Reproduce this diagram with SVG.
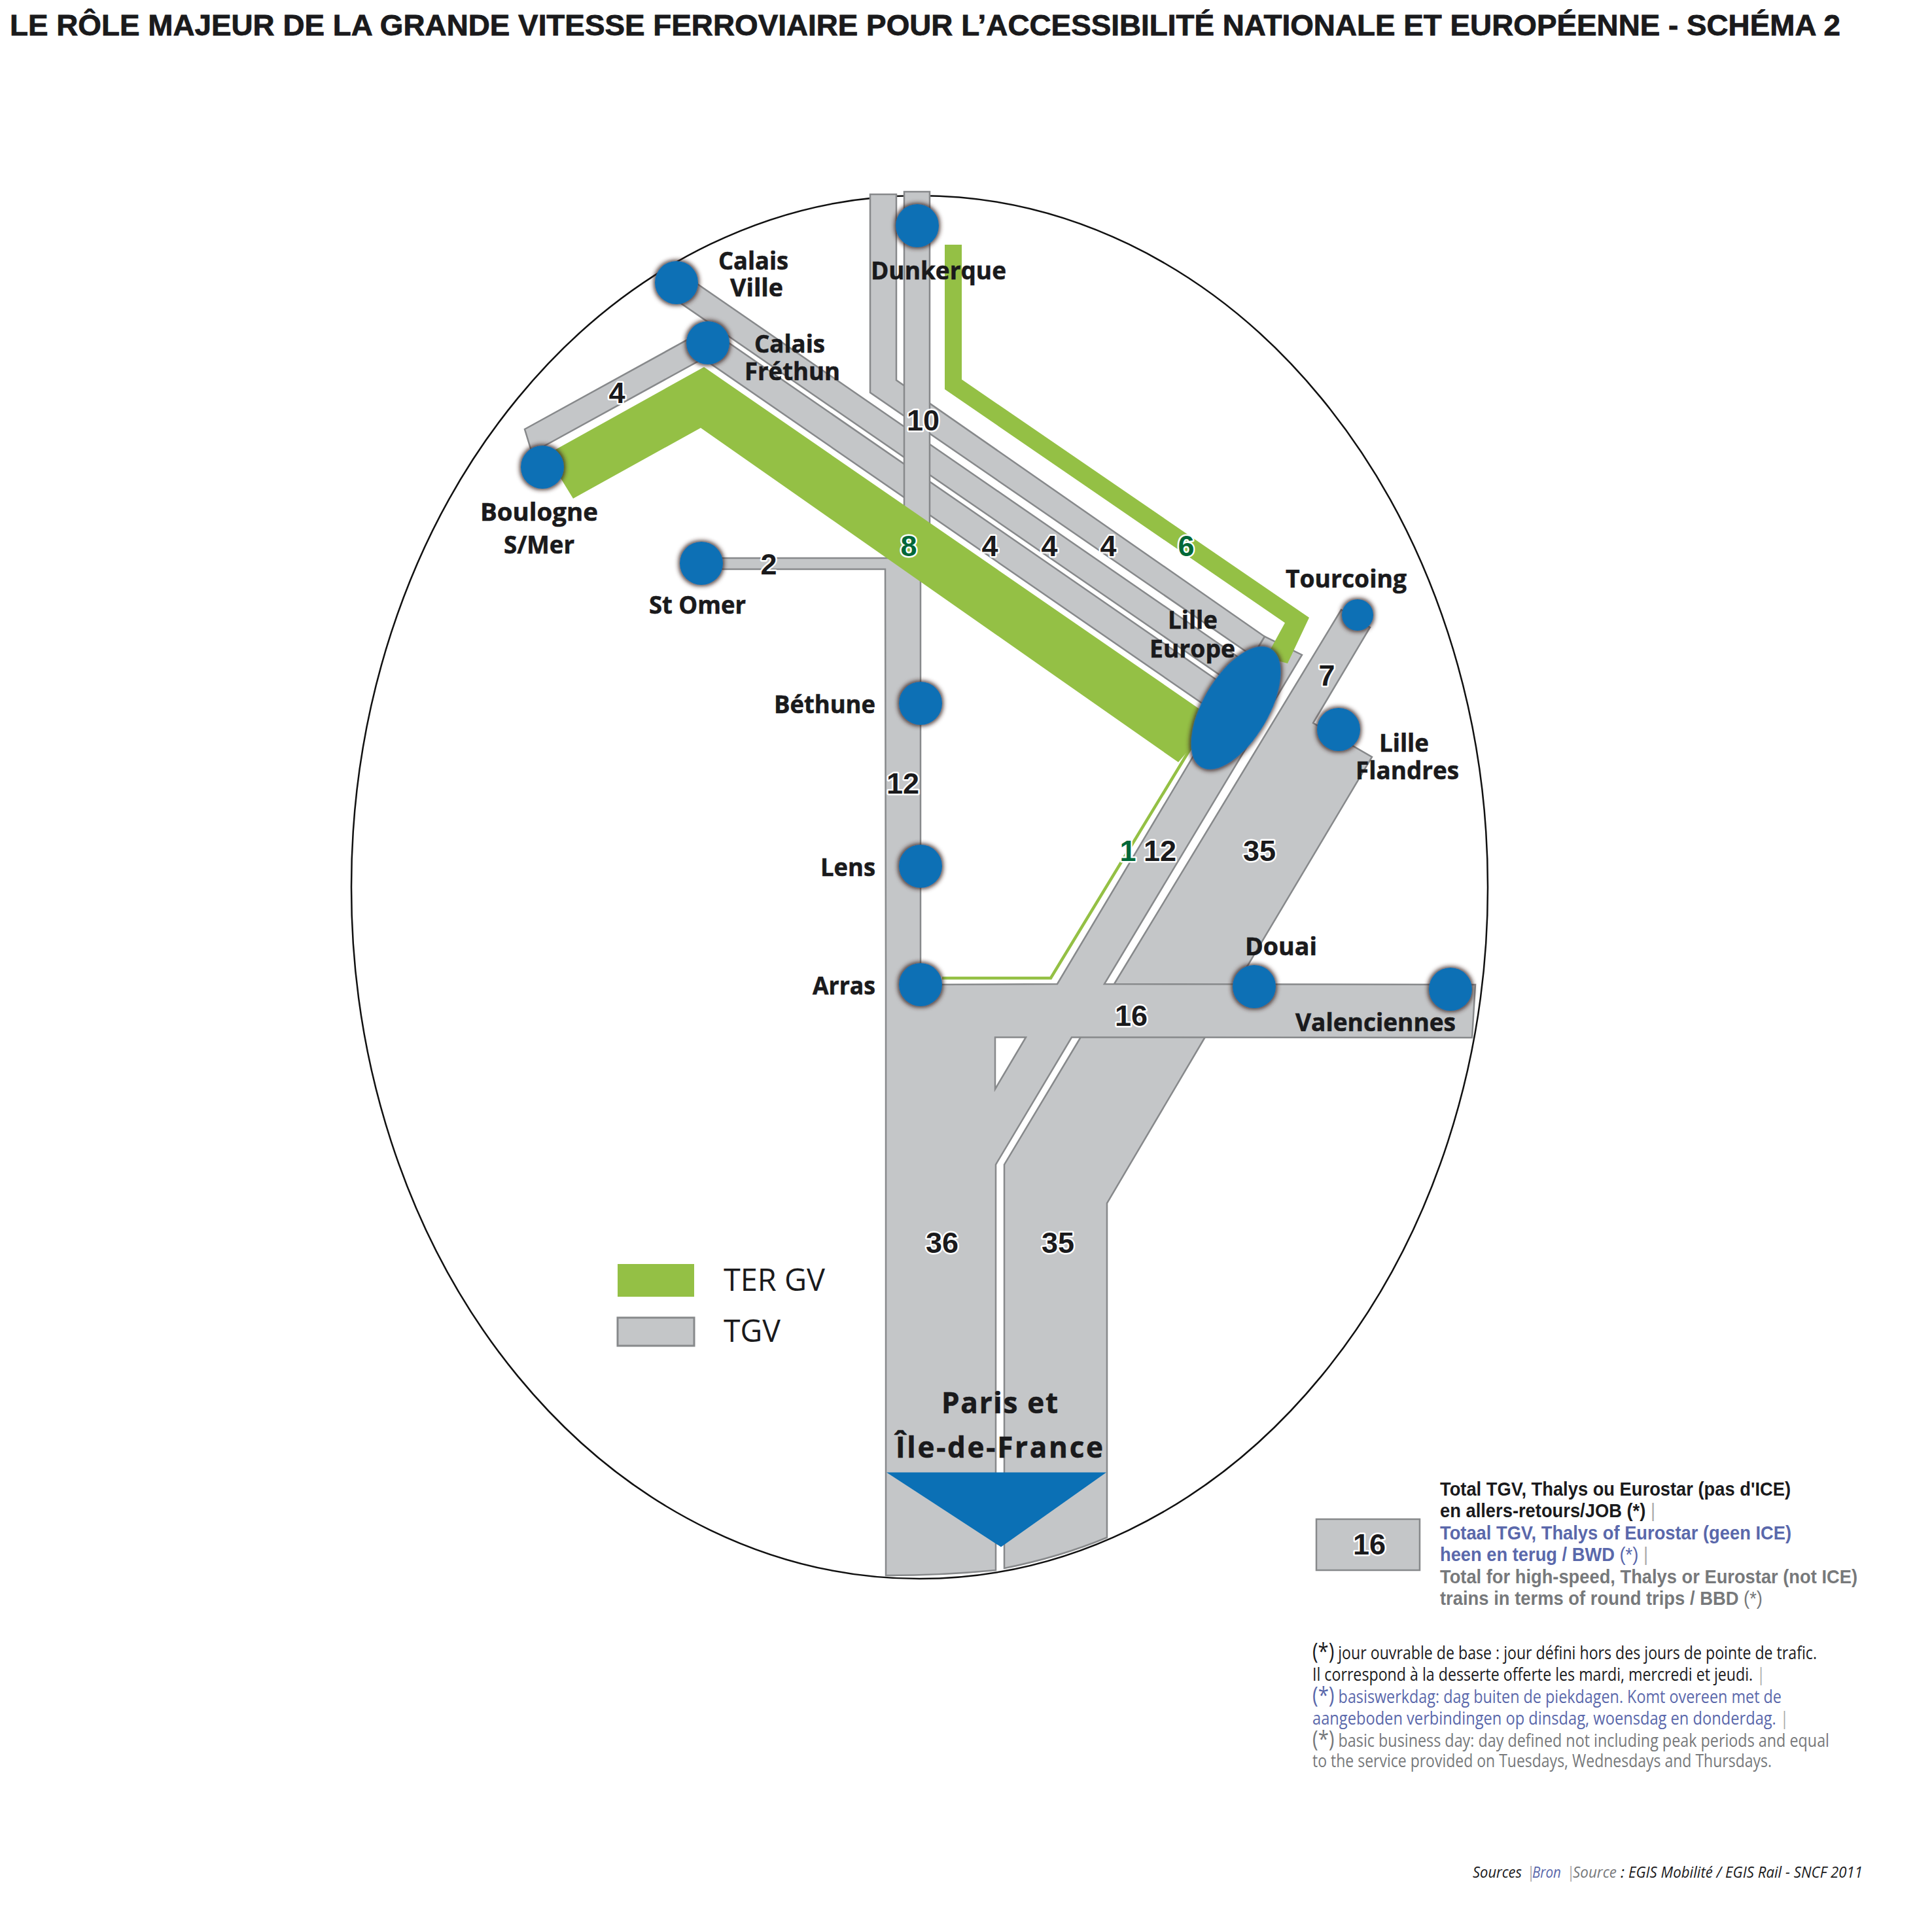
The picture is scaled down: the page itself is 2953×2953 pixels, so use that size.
<svg xmlns="http://www.w3.org/2000/svg" width="2953" height="2953" viewBox="0 0 2953 2953">
<defs>
<style>
.g{fill:#c4c6c8;stroke:#87898b;stroke-width:2.5;stroke-linejoin:miter}
.v{fill:#94c045}
.st{fill:#0b70b5;filter:url(#sh)}
.lb{font-family:"Open Sans","Noto Sans",sans-serif;font-weight:700;font-size:38px;fill:#1a1a1c;stroke:#1a1a1c;stroke-width:.6px}
.n{font-family:"Liberation Sans",Arial,sans-serif;font-weight:700;font-size:45px;fill:#1a1a1c;stroke:#fff;stroke-width:5px;paint-order:stroke;text-anchor:middle;stroke-linejoin:round}
.ng{fill:#006838}
.t{font-family:"Liberation Sans",Arial,sans-serif;font-weight:700;font-size:30px}
.f{font-family:"Open Sans","Noto Sans",sans-serif;font-size:27px}
.so{font-family:"Open Sans","Noto Sans",sans-serif;font-style:italic;font-size:24px}
.a{font-size:34px}
.k{fill:#1a1a1c}.b{fill:#5a68ab}.y{fill:#77797b}
.sep{fill:#aaaaaa;font-weight:400}
</style>
<filter id="sh" x="-30%" y="-30%" width="160%" height="160%"><feMorphology in="SourceAlpha" operator="dilate" radius="1.5"/><feGaussianBlur stdDeviation="3" result="b"/><feFlood flood-color="#3a2522" flood-opacity=".85"/><feComposite in2="b" operator="in" result="s"/><feMerge><feMergeNode in="s"/><feMergeNode in="SourceGraphic"/></feMerge></filter>
</defs>
<rect width="2953" height="2953" fill="#fff"/>
<text x="15" y="54" font-family="'Liberation Sans',Arial,sans-serif" font-weight="700" font-size="45" fill="#1a1a1c" stroke="#1a1a1c" stroke-width=".8" textLength="2798" lengthAdjust="spacingAndGlyphs">LE RÔLE MAJEUR DE LA GRANDE VITESSE FERROVIAIRE POUR L’ACCESSIBILITÉ NATIONALE ET EUROPÉENNE - SCHÉMA 2</text>
<ellipse cx="1405.5" cy="1356" rx="868.5" ry="1057" fill="#fff" stroke="#111" stroke-width="2.5"/>
<g id="connectors">
<path class="g" d="M802,656L1082,502L1082,544L813,692Z"/>
<path class="g" d="M1034,412L1908,1015L1888,1048L1034,459Z"/>
<path class="g" d="M1082,502L1884,1056L1862,1092L1082,553Z"/>
<path class="g" d="M1330,297L1370,297L1370,581L1933,973L1915,1003L1330,600Z"/>
<path class="g" d="M1382,293L1421,293L1421,810L1382,810Z"/>
<path class="g" d="M1703,1504L2050,932L2094,959L2007,1105L2097,1157L1842,1585L1692,1839L1692,2350Q1620,2380 1535,2397L1535,1780L1652,1585Z"/>
<path class="g" fill-rule="evenodd" d="M1072,853L1407,853L1407,1505L1616,1504L1933,973L1990,1001L1688,1504L2255,1505L2250,1586L1638,1585.5L1522,1780L1522,2400Q1440,2408 1354,2408L1354,1500L1353,870L1072,870ZM1521,1585.5L1568,1585.5L1521,1664.6Z"/>
<path class="v" d="M835,695L1076,561L1857,1100L1801,1165L1071,654L876,762Z"/>
<path class="v" d="M1444,374L1470,374L1470,580L2001,944L1968,1014L1935,1005L1964,952L1444,595Z"/>
<path d="M1440,1495L1606,1495L1822,1140" fill="none" stroke="#94c045" stroke-width="4.5"/>
</g>
<g id="node-dunkerque"><circle class="st" cx="1402" cy="345" r="33"/><text class="lb" x="1331" y="427" textLength="207" lengthAdjust="spacingAndGlyphs">Dunkerque</text></g>
<g id="node-calais-ville"><circle class="st" cx="1034" cy="432" r="33"/><text class="lb" x="1098" y="412" textLength="107" lengthAdjust="spacingAndGlyphs">Calais</text><text class="lb" x="1116" y="453" textLength="81" lengthAdjust="spacingAndGlyphs">Ville</text></g>
<g id="node-calais-frethun"><circle class="st" cx="1082" cy="524" r="33"/><text class="lb" x="1153" y="539" textLength="108" lengthAdjust="spacingAndGlyphs">Calais</text><text class="lb" x="1138" y="581" textLength="146" lengthAdjust="spacingAndGlyphs">Fréthun</text></g>
<g id="node-boulogne"><circle class="st" cx="829" cy="714" r="33"/><text class="lb" x="734" y="796" textLength="180" lengthAdjust="spacingAndGlyphs">Boulogne</text><text class="lb" x="770" y="846" textLength="108" lengthAdjust="spacingAndGlyphs">S/Mer</text></g>
<g id="node-st-omer"><circle class="st" cx="1072" cy="861" r="33"/><text class="lb" x="992" y="938" textLength="148" lengthAdjust="spacingAndGlyphs">St Omer</text></g>
<g id="node-bethune"><circle class="st" cx="1407" cy="1075" r="33"/><text class="lb" x="1183" y="1090" textLength="155" lengthAdjust="spacingAndGlyphs">Béthune</text></g>
<g id="node-lens"><circle class="st" cx="1407" cy="1324" r="33"/><text class="lb" x="1254" y="1339" textLength="84" lengthAdjust="spacingAndGlyphs">Lens</text></g>
<g id="node-arras"><circle class="st" cx="1407" cy="1505" r="33"/><text class="lb" x="1242" y="1520" textLength="96" lengthAdjust="spacingAndGlyphs">Arras</text></g>
<g id="node-tourcoing"><circle class="st" cx="2075" cy="940" r="24"/><text class="lb" x="1965" y="898" textLength="185" lengthAdjust="spacingAndGlyphs">Tourcoing</text></g>
<g id="node-lille-europe"><ellipse class="st" cx="1889" cy="1082" rx="105" ry="50" transform="rotate(-59.5 1889 1082)"/><text class="lb" x="1785" y="961" textLength="76" lengthAdjust="spacingAndGlyphs">Lille</text><text class="lb" x="1757" y="1005" textLength="131" lengthAdjust="spacingAndGlyphs">Europe</text></g>
<g id="node-lille-flandres"><circle class="st" cx="2046" cy="1115" r="33"/><text class="lb" x="2108" y="1149" textLength="76" lengthAdjust="spacingAndGlyphs">Lille</text><text class="lb" x="2072" y="1191" textLength="158" lengthAdjust="spacingAndGlyphs">Flandres</text></g>
<g id="node-douai"><circle class="st" cx="1917" cy="1508" r="33"/><text class="lb" x="1903" y="1460" textLength="110" lengthAdjust="spacingAndGlyphs">Douai</text></g>
<g id="node-valenciennes"><circle class="st" cx="2217" cy="1512" r="33"/><text class="lb" x="1980" y="1576" textLength="245" lengthAdjust="spacingAndGlyphs">Valenciennes</text></g>
<g id="node-paris"><path fill="#0b70b5" d="M1355,2250.5L1691,2250.5L1530,2364.5Z"/><text class="lb" style="font-size:44px" x="1439" y="2160" textLength="178">Paris et</text><text class="lb" style="font-size:44px" x="1369" y="2228" textLength="317">Île-de-France</text></g>
<g id="numbers">
<text class="n" x="943" y="616">4</text>
<text class="n" x="1411" y="658">10</text>
<text class="n ng" x="1389" y="850">8</text>
<text class="n" x="1513" y="850">4</text>
<text class="n" x="1604" y="850">4</text>
<text class="n" x="1694" y="850">4</text>
<text class="n ng" x="1813" y="850">6</text>
<text class="n" x="1175" y="878">2</text>
<text class="n" x="1380" y="1213">12</text>
<text class="n ng" x="1724" y="1316">1</text>
<text class="n" x="1773" y="1316">12</text>
<text class="n" x="1925" y="1316">35</text>
<text class="n" x="2028" y="1048">7</text>
<text class="n" x="1729" y="1568">16</text>
<text class="n" x="1440" y="1915">36</text>
<text class="n" x="1617" y="1915">35</text>
</g>
<g id="legend">
<rect x="944" y="1932" width="117" height="50" fill="#94c045"/>
<rect class="g" style="stroke-width:3" x="944" y="2014" width="117" height="43"/>
<text x="1106" y="1973" font-family="'Open Sans','Noto Sans',sans-serif" font-size="48" fill="#1a1a1c" textLength="155" lengthAdjust="spacingAndGlyphs">TER GV</text>
<text x="1106" y="2051" font-family="'Open Sans','Noto Sans',sans-serif" font-size="48" fill="#1a1a1c" textLength="87" lengthAdjust="spacingAndGlyphs">TGV</text>
<rect class="g" x="2012" y="2322" width="158" height="78"/>
<text class="n" x="2093" y="2376">16</text>
<text class="t k" x="2201" y="2286" textLength="536" lengthAdjust="spacingAndGlyphs">Total TGV, Thalys ou Eurostar (pas d'ICE)</text>
<text class="t k" x="2201" y="2319" textLength="329" lengthAdjust="spacingAndGlyphs">en allers-retours/JOB (*) <tspan class="sep">|</tspan></text>
<text class="t b" x="2201" y="2353" textLength="537" lengthAdjust="spacingAndGlyphs">Totaal TGV, Thalys of Eurostar (geen ICE)</text>
<text class="t b" x="2201" y="2386" textLength="318" lengthAdjust="spacingAndGlyphs">heen en terug / BWD <tspan font-weight="400">(*)</tspan> <tspan class="sep">|</tspan></text>
<text class="t y" x="2201" y="2420" textLength="638" lengthAdjust="spacingAndGlyphs">Total for high-speed, Thalys or Eurostar (not ICE)</text>
<text class="t y" x="2201" y="2453" textLength="493" lengthAdjust="spacingAndGlyphs">trains in terms of round trips / BBD <tspan font-weight="400">(*)</tspan></text>
<text class="f k" x="2006" y="2536" textLength="771" lengthAdjust="spacingAndGlyphs"><tspan class="a">(*)</tspan> jour ouvrable de base : jour défini hors des jours de pointe de trafic.</text>
<text class="f k" x="2006" y="2569" textLength="692" lengthAdjust="spacingAndGlyphs">Il correspond à la desserte offerte les mardi, mercredi et jeudi. <tspan class="sep">|</tspan></text>
<text class="f b" x="2006" y="2603" textLength="717" lengthAdjust="spacingAndGlyphs"><tspan class="a">(*)</tspan> basiswerkdag: dag buiten de piekdagen. Komt overeen met de</text>
<text class="f b" x="2006" y="2636" textLength="728" lengthAdjust="spacingAndGlyphs">aangeboden verbindingen op dinsdag, woensdag en donderdag. <tspan class="sep">|</tspan></text>
<text class="f y" x="2006" y="2670" textLength="790" lengthAdjust="spacingAndGlyphs"><tspan class="a">(*)</tspan> basic business day: day defined not including peak periods and equal</text>
<text class="f y" x="2006" y="2701" textLength="702" lengthAdjust="spacingAndGlyphs">to the service provided on Tuesdays, Wednesdays and Thursdays.</text>
<text class="so k" x="2251" y="2870" textLength="75" lengthAdjust="spacingAndGlyphs">Sources</text>
<text class="so sep" x="2333" y="2870">|</text>
<text class="so b" x="2342" y="2870" textLength="44" lengthAdjust="spacingAndGlyphs">Bron</text>
<text class="so sep" x="2394" y="2870">|</text>
<text class="so y" x="2404" y="2870" textLength="67" lengthAdjust="spacingAndGlyphs">Source</text>
<text class="so k" x="2477" y="2870">:</text>
<text class="so k" x="2489" y="2870" textLength="358" lengthAdjust="spacingAndGlyphs">EGIS Mobilité / EGIS Rail - SNCF 2011</text>
</g>
</svg>
